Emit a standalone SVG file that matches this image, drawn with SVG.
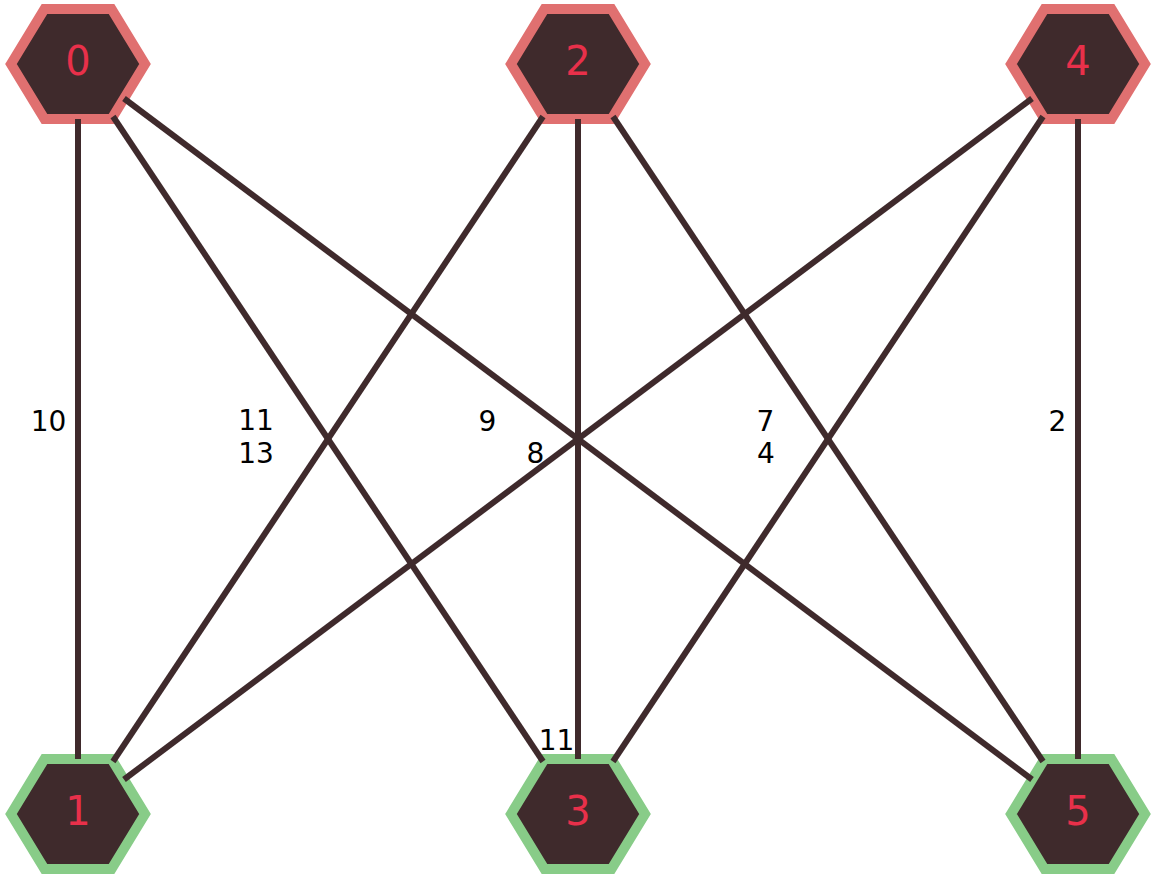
<svg xmlns="http://www.w3.org/2000/svg" width="1156" height="880" viewBox="0 0 1156 880">
<defs>
<style>
.hex{fill:#3f2a2c;stroke-width:10;stroke-linejoin:miter}
.top{stroke:#e07070}
.bot{stroke:#88cc88}
.nl{font-family:"DejaVu Sans",sans-serif;font-size:40px;fill:#e8304a;text-anchor:middle}
.e{stroke:#3f2a2c;stroke-width:6;fill:none}
.el{font-family:"DejaVu Sans",sans-serif;font-size:28px;fill:#000;text-anchor:middle}
</style>
<polygon id="hx" points="-67,0 -33.5,-55 33.5,-55 67,0 33.5,55 -33.5,55"/>
</defs>
<rect width="1156" height="880" fill="#fff"/>
<g id="node-0"><use href="#hx" x="78" y="64" class="hex top"/><text x="78" y="75" class="nl">0</text></g>
<g id="node-2"><use href="#hx" x="578" y="64" class="hex top"/><text x="578" y="75" class="nl">2</text></g>
<g id="node-4"><use href="#hx" x="1078" y="64" class="hex top"/><text x="1078" y="75" class="nl">4</text></g>
<g id="node-1"><use href="#hx" x="78" y="814" class="hex bot"/><text x="78" y="825" class="nl">1</text></g>
<g id="node-3"><use href="#hx" x="578" y="814" class="hex bot"/><text x="578" y="825" class="nl">3</text></g>
<g id="node-5"><use href="#hx" x="1078" y="814" class="hex bot"/><text x="1078" y="825" class="nl">5</text></g>
<g id="connectors">
<line class="e" x1="78" y1="119" x2="78" y2="759"/>
<line class="e" x1="113" y1="116.5" x2="543" y2="761.5"/>
<line class="e" x1="124" y1="98.5" x2="1032" y2="779.5"/>
<line class="e" x1="543" y1="116.5" x2="113" y2="761.5"/>
<line class="e" x1="578" y1="119" x2="578" y2="759"/>
<line class="e" x1="613" y1="116.5" x2="1043" y2="761.5"/>
<line class="e" x1="1032" y1="98.5" x2="124" y2="779.5"/>
<line class="e" x1="1043" y1="116.5" x2="613" y2="761.5"/>
<line class="e" x1="1078" y1="119" x2="1078" y2="759"/>
<text x="48.5" y="431" class="el">10</text>
<text x="256" y="430" class="el">11</text>
<text x="256" y="463" class="el">13</text>
<text x="487.5" y="431" class="el">9</text>
<text x="535.5" y="463" class="el">8</text>
<text x="556.5" y="750" class="el">11</text>
<text x="765.5" y="431" class="el">7</text>
<text x="766" y="463" class="el">4</text>
<text x="1057.5" y="431" class="el">2</text>
</g>
</svg>
